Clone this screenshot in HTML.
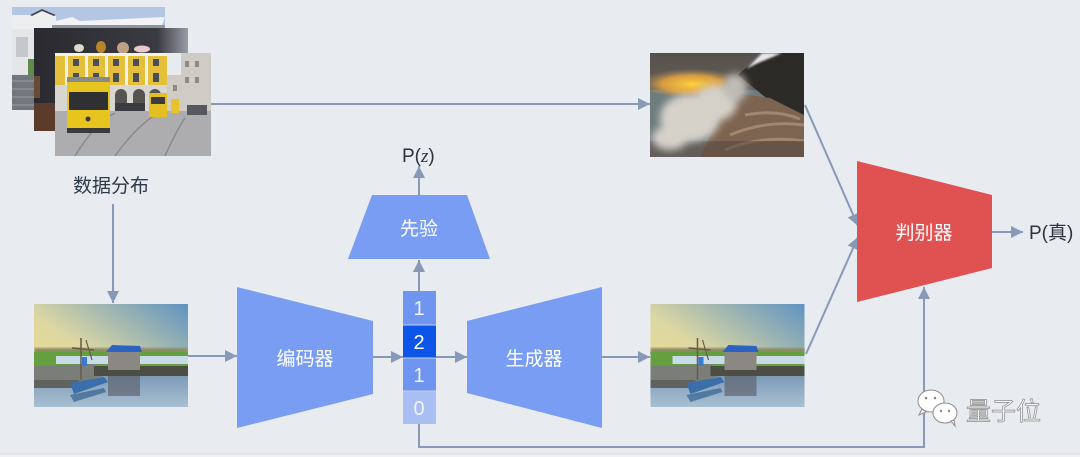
<!DOCTYPE html>
<html><head><meta charset="utf-8"><style>
html,body{margin:0;padding:0;background:#e8ebf0;}
svg{display:block;}
text{font-family:"Liberation Sans","Noto Sans CJK SC",sans-serif;}
</style></head><body>
<svg width="1080" height="457" viewBox="0 0 1080 457" xmlns="http://www.w3.org/2000/svg">
<defs>
<marker id="ah" markerWidth="12" markerHeight="12" refX="12" refY="6" orient="auto" markerUnits="userSpaceOnUse"><path d="M0,0 L12,6 L0,12 z" fill="#8899b8"/></marker>
<filter id="bl" x="-30%" y="-30%" width="160%" height="160%"><feGaussianBlur stdDeviation="4"/></filter>
<filter id="bl1"><feGaussianBlur stdDeviation="1"/></filter>
<linearGradient id="lsky" x1="0" y1="1" x2="1" y2="0"><stop offset="0" stop-color="#f4dd84"/><stop offset="0.45" stop-color="#dcd7a2"/><stop offset="1" stop-color="#5f93c2"/></linearGradient>
<linearGradient id="lwat" x1="0" y1="0" x2="0" y2="1"><stop offset="0" stop-color="#6f8fae"/><stop offset="1" stop-color="#a9c0d2"/></linearGradient>
<linearGradient id="vsky" x1="0" y1="0" x2="0" y2="1"><stop offset="0" stop-color="#54504c"/><stop offset="1" stop-color="#8a7a68"/></linearGradient>
<radialGradient id="glow" cx="0.5" cy="0.6" r="0.5"><stop offset="0" stop-color="#ffd23a"/><stop offset="0.55" stop-color="#eaa640" stop-opacity="0.85"/><stop offset="1" stop-color="#8a7a68" stop-opacity="0"/></radialGradient>
<linearGradient id="mid" x1="0" y1="0" x2="1" y2="0"><stop offset="0" stop-color="#2a2a30"/><stop offset="0.8" stop-color="#3a3a42"/><stop offset="1" stop-color="#9a9ca6"/></linearGradient>
<symbol id="lake" viewBox="0 0 154 103">
 <rect width="154" height="103" fill="url(#lsky)"/>
 <rect x="0" y="44" width="154" height="6" fill="#8a8c62" filter="url(#bl1)"/>
 <rect x="0" y="48" width="154" height="16" fill="#64a040"/>
 <rect x="22" y="52" width="132" height="8" fill="#c9dbe6"/>
 <rect x="0" y="62" width="154" height="41" fill="url(#lwat)"/>
 <polygon points="0,62 62,60 70,72 40,80 0,82" fill="#7b7d78"/>
 <rect x="0" y="76" width="45" height="8" fill="#5f625e"/>
 <rect x="60" y="62" width="94" height="10" fill="#4c4e44"/>
 <rect x="74" y="46" width="32" height="20" fill="#8b8782"/>
 <polygon points="72,48 78,41 106,42 108,48" fill="#2b62c4"/>
 <rect x="74" y="72" width="32" height="20" fill="#5e6470" opacity="0.7"/>
 <line x1="47" y1="34" x2="47" y2="76" stroke="#6a5a48" stroke-width="1.5"/>
 <line x1="38" y1="44" x2="60" y2="46" stroke="#6a5a48" stroke-width="1.5"/>
 <line x1="52" y1="36" x2="58" y2="56" stroke="#6a5a48" stroke-width="1.2"/>
 <rect x="48" y="53" width="5" height="9" fill="#3a7ad0"/>
 <polygon points="36,79 70,73 74,78 40,90" fill="#3b6fab"/>
 <polygon points="36,91 70,84 72,88 40,98" fill="#35618f" opacity="0.7"/>
</symbol>
</defs>

<!-- back image -->
<svg x="12" y="7" width="153" height="103" viewBox="0 0 153 103">
 <rect width="153" height="103" fill="#dcdfe3"/>
 <rect width="153" height="22" fill="#b4c6e6"/>
 <polygon points="0,8 18,8 30,2 44,8 44,22 0,22" fill="#eceef0"/>
 <polygon points="18,8 30,2 44,8 42,9 30,4 20,9" fill="#44484e"/>
 <polygon points="44,14 60,10 68,14 153,10 150,18 40,20" fill="#f2f3f5"/>
 <rect x="40" y="18" width="113" height="4" fill="#8e949c"/>
 <rect x="0" y="22" width="22" height="45" fill="#e4e6e8"/>
 <rect x="4" y="30" width="12" height="20" fill="#c4c8cc"/>
 <rect x="16" y="52" width="6" height="20" fill="#5f8a4a"/>
 <rect x="0" y="68" width="22" height="35" fill="#72767d"/>
 <g stroke="#9a9ea4" stroke-width="1"><line x1="0" y1="74" x2="22" y2="74"/><line x1="0" y1="82" x2="22" y2="82"/><line x1="0" y1="90" x2="22" y2="90"/><line x1="0" y1="98" x2="22" y2="98"/></g>
</svg>
<!-- middle image -->
<svg x="34" y="28" width="154" height="103" viewBox="0 0 154 103">
 <rect width="154" height="103" fill="url(#mid)"/>
 <ellipse cx="45" cy="20" rx="5" ry="4" fill="#e0d8cc"/>
 <ellipse cx="67" cy="19" rx="5" ry="6" fill="#b8862a"/>
 <ellipse cx="89" cy="20" rx="6" ry="6" fill="#c0a084"/>
 <ellipse cx="108" cy="21" rx="8" ry="3.5" fill="#e8c8cc"/>
 <rect x="0" y="75" width="21" height="28" fill="#5b3b2a"/>
 <rect x="0" y="48" width="6" height="22" fill="#6a4a34"/>
</svg>
<!-- front image -->
<svg x="55" y="53" width="156" height="103" viewBox="0 0 156 103">
 <rect width="156" height="103" fill="#b2b3b7"/>
 <rect x="0" y="0" width="118" height="42" fill="#e4c03a"/>
 <g fill="#f2f0ea">
  <rect x="0" y="0" width="118" height="3"/>
  <rect x="10" y="0" width="3" height="42"/><rect x="30" y="0" width="3" height="42"/><rect x="50" y="0" width="3" height="42"/><rect x="70" y="0" width="3" height="42"/><rect x="90" y="0" width="3" height="42"/>
 </g>
 <g fill="#4a4e58">
  <rect x="18" y="6" width="6" height="7"/><rect x="38" y="6" width="6" height="7"/><rect x="58" y="6" width="6" height="7"/><rect x="78" y="6" width="6" height="7"/><rect x="98" y="6" width="6" height="7"/>
  <rect x="18" y="20" width="6" height="9"/><rect x="38" y="20" width="6" height="9"/><rect x="58" y="20" width="6" height="9"/><rect x="78" y="20" width="6" height="9"/><rect x="98" y="20" width="6" height="9"/>
 </g>
 <rect x="0" y="32" width="118" height="26" fill="#d8d6d0"/>
 <path d="M60,58 v-16 a6,6 0 0 1 12,0 v16 z M78,58 v-16 a6,6 0 0 1 12,0 v16 z M94,58 v-16 a6,6 0 0 1 12,0 v16 z" fill="#555450"/>
 <rect x="112" y="0" width="44" height="60" fill="#cfccc6"/>
 <rect x="112" y="0" width="14" height="22" fill="#e6ebee"/>
 <g fill="#8d8a86"><rect x="130" y="8" width="4" height="6"/><rect x="140" y="8" width="4" height="6"/><rect x="130" y="24" width="4" height="6"/><rect x="140" y="24" width="4" height="6"/><rect x="118" y="32" width="4" height="6"/></g>
 <rect x="0" y="58" width="156" height="45" fill="#adadb0"/>
 <path d="M20,103 Q40,70 60,60 M60,103 Q80,75 100,62 M110,103 Q120,80 130,65" stroke="#8a8a8e" stroke-width="1.5" fill="none"/>
 <rect x="60" y="50" width="30" height="8" fill="#3a3c42"/>
 <rect x="132" y="52" width="20" height="10" fill="#55585e"/>
 <rect x="12" y="24" width="43" height="6" fill="#8a8a86"/>
 <rect x="12" y="29" width="43" height="47" fill="#e8c41e"/>
 <rect x="14" y="39" width="39" height="18" fill="#2e3034"/>
 <rect x="12" y="75" width="43" height="5" fill="#3a3a3a"/>
 <circle cx="33" cy="66" r="2.5" fill="#3a3a3a"/>
 <rect x="94" y="40" width="18" height="24" fill="#e4be22"/>
 <rect x="96" y="44" width="14" height="7" fill="#3c3d40"/>
 <rect x="116" y="46" width="8" height="14" fill="#e8c22a"/>
</svg>

<text x="111" y="192" font-size="19" fill="#2e3a48" text-anchor="middle">数据分布</text>

<!-- volcano -->
<svg x="650" y="53" width="154" height="104" viewBox="0 0 154 104">
 <rect width="154" height="104" fill="url(#vsky)"/>
 <rect x="0" y="37" width="154" height="67" fill="#6e7c7e"/>
 <ellipse cx="42" cy="28" rx="55" ry="16" fill="url(#glow)"/>
 <polygon points="88,22 112,0 154,0 154,62 120,48" fill="#2b2a27"/>
 <polygon points="96,16 112,0 132,0 108,10" fill="#e8e8ea" filter="url(#bl1)"/>
 <polygon points="50,104 154,104 154,62 120,45 85,40 70,62" fill="#7d6450"/>
 <path d="M75,97 Q110,82 154,88 M80,82 Q115,67 154,72 M95,62 Q125,56 150,66" stroke="#b09680" stroke-width="3" fill="none" opacity="0.7"/>
 <rect x="0" y="88" width="154" height="16" fill="#5a4a40" opacity="0.6"/>
 <g filter="url(#bl)" fill="#d6d2ca">
  <ellipse cx="40" cy="65" rx="30" ry="24"/>
  <ellipse cx="65" cy="50" rx="22" ry="18"/>
  <ellipse cx="20" cy="85" rx="18" ry="12"/>
  <ellipse cx="85" cy="35" rx="12" ry="14" fill="#bebcb7"/>
 </g>
</svg>

<!-- lake images -->
<use href="#lake" x="34" y="304" width="154" height="103"/>
<use href="#lake" x="650" y="304" width="155" height="103"/>

<!-- connectors -->
<g stroke="#8899b8" stroke-width="2" fill="none">
 <line x1="211" y1="104" x2="650" y2="104" marker-end="url(#ah)"/>
 <line x1="113" y1="204" x2="113" y2="303" marker-end="url(#ah)"/>
 <line x1="188" y1="356" x2="237" y2="356" marker-end="url(#ah)"/>
 <line x1="373" y1="357" x2="403" y2="357" marker-end="url(#ah)"/>
 <line x1="436" y1="357" x2="467" y2="357" marker-end="url(#ah)"/>
 <line x1="602" y1="357" x2="650" y2="357" marker-end="url(#ah)"/>
 <line x1="419" y1="291" x2="419" y2="260" marker-end="url(#ah)"/>
 <line x1="419" y1="195" x2="419" y2="166" marker-end="url(#ah)"/>
 <line x1="805" y1="105" x2="858" y2="226" marker-end="url(#ah)"/>
 <line x1="806" y1="354" x2="858" y2="237" marker-end="url(#ah)"/>
 <line x1="992" y1="232" x2="1023" y2="232" marker-end="url(#ah)"/>
 <polyline points="419,424 419,447 924,447 924,287" marker-end="url(#ah)"/>
</g>

<!-- shapes -->
<polygon points="237,287 373,321 373,394 237,428" fill="#7a9df4"/>
<polygon points="372,195 467,195 490,259 348,259" fill="#7a9df4"/>
<polygon points="467,321 602,287 602,428 467,393" fill="#7a9df4"/>
<polygon points="857,161 992,195 992,268 857,302" fill="#e05252"/>

<rect x="403" y="291" width="33" height="34" fill="#6f95f0"/>
<rect x="403" y="325" width="33" height="33" fill="#0d55e8"/>
<rect x="403" y="358" width="33" height="33" fill="#6f95f0"/>
<rect x="403" y="391" width="33" height="33" fill="#a9bff4"/>
<g stroke="#c4d2f4" stroke-width="1"><line x1="403" y1="325" x2="436" y2="325"/><line x1="403" y1="358" x2="436" y2="358"/><line x1="403" y1="391" x2="436" y2="391"/></g>

<g fill="#ffffff" font-size="19" text-anchor="middle">
 <text x="305" y="365">编码器</text>
 <text x="419" y="235">先验</text>
 <text x="534" y="365">生成器</text>
 <text x="924" y="239">判别器</text>
</g>
<g fill="#ffffff" font-size="20" text-anchor="middle">
 <text x="419" y="315" fill="#eef2fd">1</text>
 <text x="419" y="349">2</text>
 <text x="419" y="382" fill="#eef2fd">1</text>
 <text x="419" y="415" fill="#eef2fd">0</text>
</g>

<text x="402" y="162" font-size="19" fill="#2a3340">P(<tspan font-family="Liberation Serif, serif" font-style="italic">z</tspan>)</text>
<text x="1029" y="239" font-size="19" fill="#2a3340">P(真)</text>

<!-- watermark -->
<g stroke="#8c8c8c" stroke-width="1" fill="#ffffff">
 <ellipse cx="931" cy="401" rx="13" ry="11"/>
 <path d="M922,409 l-3,6 l7,-3 z"/>
 <ellipse cx="945" cy="413" rx="12" ry="10"/>
 <path d="M951,421 l4,5 l-1,-6 z"/>
</g>
<g fill="#888"><circle cx="926" cy="398" r="1.3"/><circle cx="935" cy="398" r="1.3"/><circle cx="941" cy="411" r="1.2"/><circle cx="949" cy="411" r="1.2"/></g>
<text x="966" y="420" font-size="25" fill="#f6f6f6" stroke="#8a8a8a" stroke-width="0.7">量子位</text>

<rect x="0" y="454" width="1080" height="3" fill="#eef0f3"/>
<line x1="0" y1="454" x2="1080" y2="454" stroke="#d9dce1" stroke-width="1"/>
</svg>
</body></html>
